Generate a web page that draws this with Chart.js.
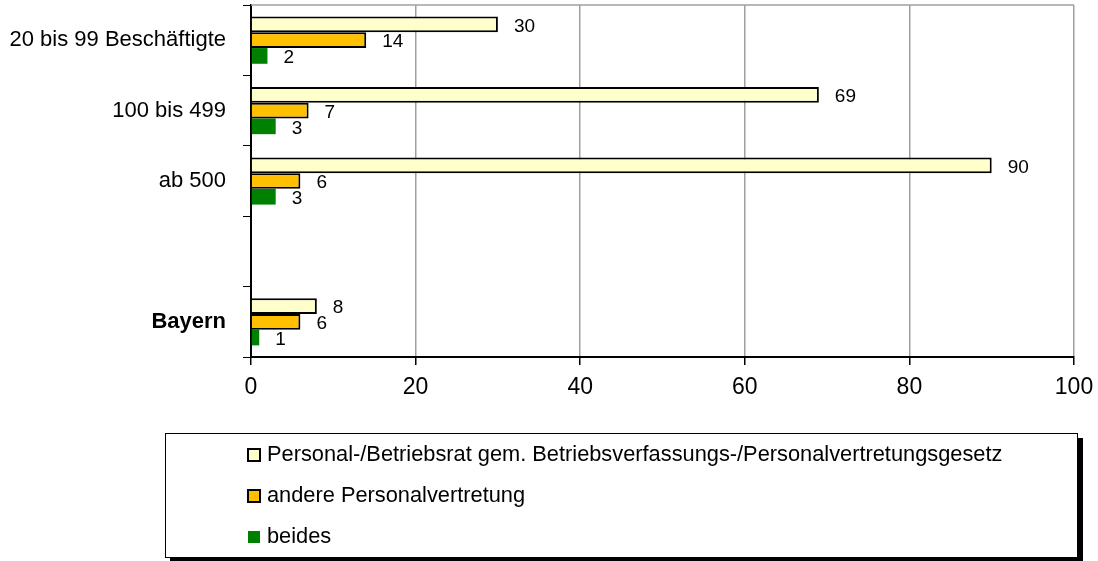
<!DOCTYPE html>
<html>
<head>
<meta charset="utf-8">
<script src="https://cdn.jsdelivr.net/npm/chart.js@4"></script>
<style>
  body { margin: 0; background: #fff; }
</style>
</head>
<body>
<canvas id="myChart" width="1098" height="561"></canvas>
<script>
// Kategorien (leere Kategorie als Abstand vor Bayern)
const categories = ['20 bis 99 Beschäftigte', '100 bis 499', 'ab 500', '', 'Bayern'];
const seriesNames = [
    'Personal-/Betriebsrat gem. Betriebsverfassungs-/Personalvertretungsgesetz',
    'andere Personalvertretung',
    'beides'
];
const betriebsrat = [30, 69, 90, null, 8];
const anderePV = [14, 7, 6, null, 6];
const beides = [2, 3, 3, null, 1];
const xTicks = [0, 20, 40, 60, 80, 100];

const font = "'Liberation Sans', Arial, sans-serif";

// Werte rechts neben die Balken schreiben
const valueLabels = {
    id: 'valueLabels',
    afterDatasetsDraw(chart) {
        const ctx = chart.ctx;
        ctx.save();
        ctx.fillStyle = '#000';
        ctx.font = '19px ' + font;
        ctx.textAlign = 'left';
        ctx.textBaseline = 'middle';
        chart.data.datasets.forEach((ds, i) => {
            chart.getDatasetMeta(i).data.forEach((bar, j) => {
                if (ds.data[j] == null) return;
                ctx.fillText(ds.data[j], bar.x + 16, bar.y + 2);
            });
        });
        ctx.restore();
    }
};

// graue Oberkante des Diagrammbereichs
const frameTop = {
    id: 'frameTop',
    beforeDatasetsDraw(chart) {
        const a = chart.chartArea;
        const ctx = chart.ctx;
        ctx.save();
        ctx.strokeStyle = '#a0a0a0';
        ctx.lineWidth = 1.5;
        ctx.beginPath();
        ctx.moveTo(a.left, a.top);
        ctx.lineTo(a.right, a.top);
        ctx.stroke();
        ctx.restore();
    }
};

// Legende im Kasten mit Schatten
const boxLegend = {
    id: 'boxLegend',
    afterDraw(chart) {
        const ctx = chart.ctx;
        const x = 165, y = 433, w = 912, h = 124;
        ctx.save();
        ctx.fillStyle = '#000';
        ctx.fillRect(x + 5, y + 5, w + 1, h + 1);
        ctx.fillStyle = '#fff';
        ctx.fillRect(x, y, w, h);
        ctx.strokeStyle = '#000';
        ctx.lineWidth = 1;
        ctx.strokeRect(x + 0.5, y + 0.5, w, h);
        ctx.font = '21.8px ' + font;
        ctx.textBaseline = 'middle';
        ctx.textAlign = 'left';
        chart.data.datasets.forEach((ds, i) => {
            const cy = 455 + i * 41;
            ctx.fillStyle = ds.backgroundColor;
            ctx.fillRect(248, cy - 6, 12, 12);
            if (ds.borderWidth) {
                ctx.strokeStyle = '#000';
                ctx.lineWidth = 2;
                ctx.strokeRect(248, cy - 6, 12, 12);
            }
            ctx.fillStyle = '#000';
            ctx.fillText(ds.label, 267, cy);
        });
        ctx.restore();
    }
};

const ctx = document.getElementById('myChart').getContext('2d');
const myChart = new Chart(ctx, {
    type: 'bar',
    data: {
        labels: categories,
        datasets: [{
            label: seriesNames[0],
            data: betriebsrat,
            backgroundColor: '#FFFFCC',
            borderColor: '#000',
            borderWidth: 2
        }, {
            label: seriesNames[1],
            data: anderePV,
            backgroundColor: '#FFC000',
            borderColor: '#000',
            borderWidth: 2
        }, {
            label: seriesNames[2],
            data: beides,
            backgroundColor: '#008000',
            borderWidth: 0
        }]
    },
    options: {
        indexAxis: 'y',
        responsive: false,
        animation: false,
        categoryPercentage: 0.67,
        barPercentage: 1,
        layout: { padding: { top: 5, right: 24, bottom: 154, left: 0 } },
        plugins: {
            legend: { display: false },
            tooltip: { enabled: false }
        },
        scales: {
            x: {
                min: 0,
                max: 100,
                afterBuildTicks: scale => { scale.ticks = xTicks.map(v => ({ value: v })); },
                afterFit: scale => {
                    scale.height = 50;
                    scale.paddingLeft = 0;
                    scale.paddingRight = 0;
                },
                grid: {
                    color: '#a0a0a0',
                    lineWidth: 1.5,
                    tickColor: '#000',
                    tickLength: 8
                },
                border: { color: '#000', width: 2 },
                ticks: {
                    color: '#000',
                    padding: 9,
                    font: { family: font, size: 23 }
                }
            },
            y: {
                afterFit: scale => {
                    scale.width = 251;
                    scale.paddingTop = 0;
                    scale.paddingBottom = 0;
                },
                grid: {
                    offset: true,
                    drawOnChartArea: false,
                    tickColor: '#000',
                    tickLength: 8
                },
                border: { color: '#000', width: 2 },
                ticks: {
                    color: '#000',
                    padding: 17,
                    font: c => ({
                        family: font,
                        size: 22,
                        weight: c.tick && c.tick.label === 'Bayern' ? 'bold' : 'normal'
                    })
                }
            }
        }
    },
    plugins: [frameTop, valueLabels, boxLegend]
});
</script>
</body>
</html>
